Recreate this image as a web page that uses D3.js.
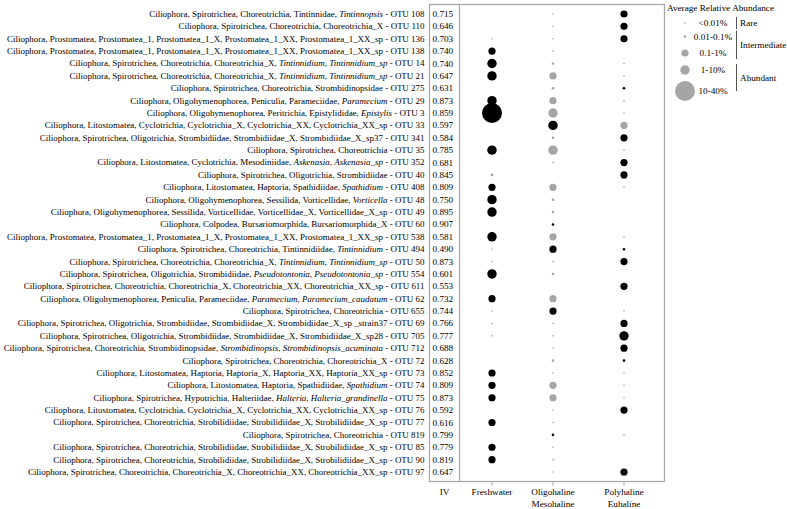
<!DOCTYPE html>
<html><head><meta charset="utf-8">
<script src="https://cdn.jsdelivr.net/npm/d3@7"></script>
<style>
body{margin:0;background:#fff;}
svg text{font-family:"Liberation Serif","Times New Roman",serif;fill:#000;}
</style></head>
<body><svg id="c" width="787" height="509"></svg>
<script>
// ---------- data ----------
const taxa = [
"Ciliophora, Spirotrichea, Choreotrichia, Tintinnidae, *Tintinnopsis* - OTU 108",
"Ciliophora, Spirotrichea, Choreotrichia, Choreotrichia_X - OTU 110",
"Ciliophora, Prostomatea, Prostomatea_1, Prostomatea_1_X, Prostomatea_1_XX, Prostomatea_1_XX_sp - OTU 136",
"Ciliophora, Prostomatea, Prostomatea_1, Prostomatea_1_X, Prostomatea_1_XX, Prostomatea_1_XX_sp - OTU 138",
"Ciliophora, Spirotrichea, Choreotrichia, Choreotrichia_X, *Tintinnidium*, *Tintinnidium_sp* - OTU 14",
"Ciliophora, Spirotrichea, Choreotrichia, Choreotrichia_X, *Tintinnidium*, *Tintinnidium_sp* - OTU 21",
"Ciliophora, Spirotrichea, Choreotrichia, Strombidinopsidae - OTU 275",
"Ciliophora, Oligohymenophorea, Peniculia, Parameciidae, *Paramecium* - OTU 29",
"Ciliophora, Oligohymenophorea, Peritrichia, Epistylididae, *Epistylis* - OTU 3",
"Ciliophora, Litostomatea, Cyclotrichia, Cyclotrichia_X, Cyclotrichia_XX, Cyclotrichia_XX_sp - OTU 33",
"Ciliophora, Spirotrichea, Oligotrichia, Strombidiidae, Strombidiidae_X, Strombidiidae_X_sp37 - OTU 341",
"Ciliophora, Spirotrichea, Choreotrichia - OTU 35",
"Ciliophora, Litostomatea, Cyclotrichia, Mesodiniidae, *Askenasia*, *Askenasia_sp* - OTU 352",
"Ciliophora, Spirotrichea, Oligotrichia, Strombidiidae - OTU 40",
"Ciliophora, Litostomatea, Haptoria, Spathidiidae, *Spathidium* - OTU 408",
"Ciliophora, Oligohymenophorea, Sessilida, Vorticellidae, *Vorticella* - OTU 48",
"Ciliophora, Oligohymenophorea, Sessilida, Vorticellidae, Vorticellidae_X, Vorticellidae_X_sp - OTU 49",
"Ciliophora, Colpodea, Bursariomorphida, Bursariomorphida_X - OTU 60",
"Ciliophora, Prostomatea, Prostomatea_1, Prostomatea_1_X, Prostomatea_1_XX, Prostomatea_1_XX_sp - OTU 538",
"Ciliophora, Spirotrichea, Choreotrichia, Tintinnidiidae, *Tintinnidium* - OTU 494",
"Ciliophora, Spirotrichea, Choreotrichia, Choreotrichia_X, *Tintinnidium*, *Tintinnidium_sp* - OTU 50",
"Ciliophora, Spirotrichea, Oligotrichia, Strombidiidae, *Pseudotontonia*, *Pseudotontonia_sp* - OTU 554",
"Ciliophora, Spirotrichea, Choreotrichia, Choreotrichia_X, Choreotrichia_XX, Choreotrichia_XX_sp - OTU 611",
"Ciliophora, Oligohymenophorea, Peniculia, Parameciidae, *Paramecium*, *Paramecium_caudatum* - OTU 62",
"Ciliophora, Spirotrichea, Choreotrichia - OTU 655",
"Ciliophora, Spirotrichea, Oligotrichia, Strombidiidae, Strombidiidae_X, Strombidiidae_X_sp _strain37 - OTU 69",
"Ciliophora, Spirotrichea, Oligotrichia, Strombidiidae, Strombidiidae_X, Strombidiidae_X_sp28 - OTU 705",
"Ciliophora, Spirotrichea, Choreotrichia, Strombidinopsidae, *Strombidinopsis*, *Strombidinopsis_acuminata* - OTU 712",
"Ciliophora, Spirotrichea, Choreotrichia, Choreotrichia_X - OTU 72",
"Ciliophora, Litostomatea, Haptoria, Haptoria_X, Haptoria_XX, Haptoria_XX_sp - OTU 73",
"Ciliophora, Litostomatea, Haptoria, Spathidiidae, *Spathidium* - OTU 74",
"Ciliophora, Spirotrichea, Hypotrichia, Halteriidae, *Halteria*, *Halteria_grandinella* - OTU 75",
"Ciliophora, Litostomatea, Cyclotrichia, Cyclotrichia_X, Cyclotrichia_XX, Cyclotrichia_XX_sp - OTU 76",
"Ciliophora, Spirotrichea, Choreotrichia, Strobilidiidae, Strobilidiidae_X, Strobilidiidae_X_sp - OTU 77",
"Ciliophora, Spirotrichea, Choreotrichia - OTU 819",
"Ciliophora, Spirotrichea, Choreotrichia, Strobilidiidae, Strobilidiidae_X, Strobilidiidae_X_sp - OTU 85",
"Ciliophora, Spirotrichea, Choreotrichia, Strobilidiidae, Strobilidiidae_X, Strobilidiidae_X_sp - OTU 90",
"Ciliophora, Spirotrichea, Choreotrichia, Choreotrichia_X, Choreotrichia_XX, Choreotrichia_XX_sp - OTU 97"
];
const iv = ["0.715","0.646","0.703","0.740","0.740","0.647","0.631","0.873","0.859","0.597",
"0.584","0.785","0.681","0.845","0.809","0.750","0.895","0.907","0.581","0.490",
"0.873","0.601","0.553","0.732","0.744","0.766","0.777","0.688","0.628","0.852",
"0.809","0.873","0.592","0.616","0.799","0.779","0.819","0.647"];
// abundance class per habitat: "" = absent; b = indicator (black), g = not (grey); digit = class 0..4
const freshwater = ["","","g0","b2","b3","b3","","b3","b4","",
"","b3","","g1","b2","b3","b3","","b3","g0",
"g0","b3","","b2","g0","g0","g0","","","b2",
"b2","b2","","b2","","b2","b2",""];
const oligoMeso = ["g0","g0","g0","g0","g1","g2","g1","g2","g3","b3",
"g1","g3","g0","","g2","g1","g1","b1","g2","b2",
"g0","g1","","g2","b2","g0","g0","g0","g1","g0",
"g2","g2","g0","g0","b1","g0","g0","g0"];
const polyEu = ["b2","b2","b2","","g0","g0","b1","g0","g0","g2",
"b2","g0","b2","b2","g0","","","","g0","b1",
"b2","","b2","","g0","b2","b3","b2","b1","g0",
"g0","g0","b2","","g0","","","b2"];
const habitats = ["Freshwater","Oligohaline\nMesohaline","Polyhaline\nEuhaline"];
const abundanceClasses = ["<0.01%","0.01-0.1%","0.1-1%","1-10%","10-40%"];
const abundanceGroups = [{name:"Rare",from:0,to:0},{name:"Intermediate",from:1,to:2},{name:"Abundant",from:3,to:4}];

// ---------- layout ----------
const svg = d3.select("#c");
const fs = 9.2;
const boxL = 429.5, ivSep = 459.5, boxR = 664.5, boxT = 4.5, boxB = 481.5;
const y = d3.scaleBand().domain(d3.range(taxa.length)).range([7.8, 478.2]);
const x = d3.scaleOrdinal().domain(habitats).range([492, 553, 624]);
const r = d3.scaleOrdinal().domain(d3.range(5)).range([0.8, 1.3, 3.6, 4.7, 10]);
const col = {b:"#000000", g:"#a5a5a5"};
const yc = i => y(i) + y.bandwidth()/2;

// frame
svg.append("rect").attr("x",boxL).attr("y",boxT).attr("width",boxR-boxL).attr("height",boxB-boxT)
  .attr("fill","none").attr("stroke","#a8a8a8").attr("stroke-width",1.3);
svg.append("line").attr("x1",ivSep).attr("x2",ivSep).attr("y1",boxT).attr("y2",boxB)
  .attr("stroke","#a8a8a8").attr("stroke-width",1.3);

// row labels
const lab = svg.append("g").attr("font-size",fs).attr("text-anchor","end");
taxa.forEach((t,i)=>{
  const tx = lab.append("text").attr("x",424.5).attr("y",yc(i)).attr("dy","0.33em");
  t.split("*").forEach((part,k)=>{
    if(!part) return;
    const ts = tx.append("tspan").text(part);
    if(k%2===1) ts.attr("font-style","italic");
  });
});
// fit the longest label into the space left of the IV box
const maxW = d3.max(lab.selectAll("text").nodes(), n=>n.getComputedTextLength());
lab.attr("font-size", fs * Math.min(1, 421/maxW));

// IV values
svg.append("g").attr("font-size",fs).selectAll("text").data(iv).join("text")
  .attr("x",432.5).attr("y",(d,i)=>yc(i)).attr("dy","0.33em").text(d=>d);

// bubbles
const series = [freshwater, oligoMeso, polyEu];
const pts = [];
series.forEach((s,hi)=>s.forEach((c,i)=>{ if(c) pts.push({h:habitats[hi], i, kind:c[0], cls:+c[1]}); }));
pts.sort((a,b)=>b.cls-a.cls);
svg.append("g").selectAll("circle").data(pts).join("circle")
  .attr("cx",d=>x(d.h)).attr("cy",d=>yc(d.i)).attr("r",d=>r(d.cls)).attr("fill",d=>col[d.kind]);

// x axis
const ax = svg.append("g");
habitats.forEach(h=>{
  ax.append("line").attr("x1",x(h)).attr("x2",x(h)).attr("y1",boxB).attr("y2",boxB+4).attr("stroke","#a8a8a8");
  const t = ax.append("text").attr("font-size",fs).attr("text-anchor","middle").attr("x",x(h)).attr("y",495);
  h.split("\n").forEach((ln,k)=>t.append("tspan").attr("x",x(h)).attr("dy",k?11.5:0).text(ln));
});
ax.append("text").attr("font-size",fs).attr("text-anchor","middle").attr("x",444.5).attr("y",495).text("IV");

// legend
const lg = svg.append("g").attr("font-size",fs);
lg.append("text").attr("x",667).attr("y",11).text("Average Relative Abundance");
const lgY = d3.scaleOrdinal().domain(d3.range(5)).range([23, 36.5, 53, 70, 91]);
abundanceClasses.forEach((a,k)=>{
  lg.append("circle").attr("cx",685).attr("cy",lgY(k)).attr("r",r(k)).attr("fill",col.g);
  lg.append("text").attr("x",713).attr("y",lgY(k)).attr("dy","0.33em").attr("text-anchor","middle").text(a);
});
abundanceGroups.forEach(g=>{
  const y1 = lgY(g.from) - 6, y2 = lgY(g.to) + (g.to===4? 0 : 6);
  lg.append("line").attr("x1",736.5).attr("x2",736.5).attr("y1",y1).attr("y2",y2).attr("stroke","#555").attr("stroke-width",1);
  lg.append("text").attr("x",740).attr("y",(y1+y2)/2).attr("dy","0.33em").text(g.name);
});
</script></body></html>
